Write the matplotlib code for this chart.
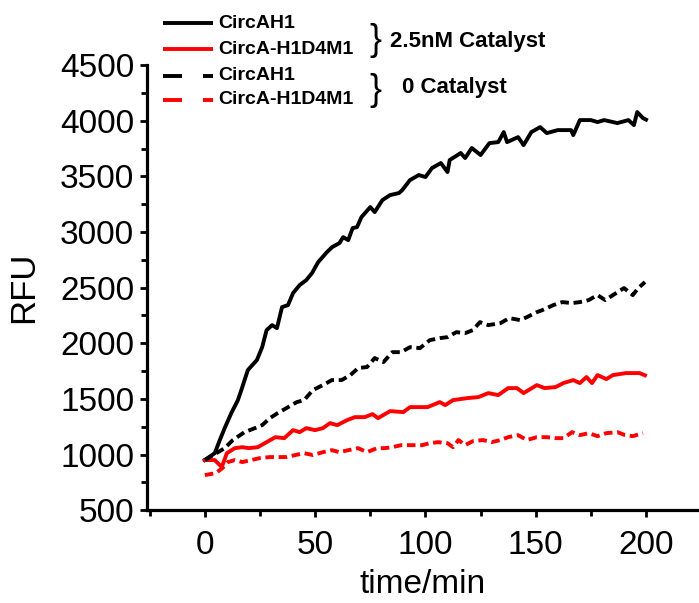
# Fluoreszenzkinetik: CircAH1 / CircA-H1D4M1 mit und ohne Katalysator
import numpy as np
import matplotlib.pyplot as plt
from matplotlib.lines import Line2D
from matplotlib.ticker import MultipleLocator

plt.rcParams['font.family'] = ['Liberation Sans', 'DejaVu Sans']

# Daten
t_ah1_cat = [0, 4.5, 6.8, 9, 12, 15, 17, 19.5, 23.6, 26, 28, 30.5, 32.7, 35, 37.7, 40, 43, 46,
             48.6, 51.4, 55.4, 57.7, 61, 62.7, 65, 67, 69, 71, 75, 77, 80.5, 84, 88, 89.5, 93,
             97, 100, 103, 107, 110, 111, 116, 118, 121, 125, 129, 133, 135.5, 137, 142, 144.5,
             148, 152, 155, 160, 166, 167, 170, 175, 178, 181, 187, 192, 194.5, 196, 198.6, 200]
f_ah1_cat = [950, 1012, 1130, 1237, 1372, 1489, 1606, 1759, 1849, 1965, 2118, 2163, 2136, 2325,
             2343, 2451, 2523, 2568, 2631, 2730, 2820, 2864, 2900, 2954, 2927, 3035, 3044, 3134,
             3224, 3179, 3287, 3332, 3350, 3377, 3467, 3512, 3494, 3575, 3620, 3539, 3647, 3710,
             3665, 3755, 3692, 3799, 3808, 3898, 3808, 3853, 3781, 3898, 3943, 3889, 3916, 3916,
             3871, 4006, 4006, 3988, 4006, 3979, 4006, 3961, 4078, 4024, 4010]

t_h1d4m1_cat = [0, 4.5, 7.7, 10, 13.6, 17, 20, 24, 28, 32, 36, 40, 43, 46, 50, 53.5, 56.7, 60,
                64.5, 68, 72.5, 76, 78.5, 84, 90, 93, 98.5, 101, 106.5, 109, 112.5, 119, 124,
                128.5, 133, 137.5, 141.5, 144.5, 150.5, 154, 159, 162.5, 167, 170, 173, 175.5,
                178, 182, 185, 191, 197, 199.5]
f_h1d4m1_cat = [950, 950, 887, 1012, 1057, 1066, 1057, 1066, 1111, 1156, 1147, 1219, 1201, 1237,
                1219, 1237, 1282, 1264, 1309, 1336, 1336, 1363, 1327, 1390, 1381, 1426, 1426,
                1426, 1471, 1444, 1489, 1507, 1516, 1552, 1534, 1597, 1597, 1552, 1624, 1597,
                1606, 1642, 1669, 1642, 1696, 1642, 1714, 1678, 1714, 1732, 1732, 1712]

t_ah1_0 = [0, 9, 12.7, 18, 22.7, 26, 29.5, 33, 37, 41.7, 45, 49, 53.5, 57.6, 62, 66, 69.5,
           73.5, 77, 81, 85, 89, 93, 97.5, 102, 106.5, 110, 114, 118, 121.5, 124.7, 128.5,
           134, 138, 143, 146, 150.5, 153, 158, 162, 166.5, 170, 174, 178, 181.5, 185, 190,
           194, 196.5, 199.5]
f_ah1_0 = [950, 1057, 1130, 1201, 1237, 1264, 1327, 1372, 1417, 1471, 1489, 1579, 1624, 1669,
           1669, 1714, 1777, 1786, 1867, 1831, 1920, 1920, 1965, 1956, 2028, 2046, 2055, 2100,
           2091, 2118, 2190, 2163, 2181, 2226, 2208, 2235, 2280, 2298, 2343, 2370, 2361, 2370,
           2388, 2433, 2388, 2433, 2496, 2433, 2496, 2550]

t_h1d4m1_0 = [0, 5, 8, 10.5, 13.6, 17, 21, 25, 29.5, 33, 37, 41, 45, 49, 53.5, 57.6, 61, 65,
              69.5, 73.5, 78, 81.6, 85, 89, 94, 98.5, 102, 105.7, 110, 112.5, 115, 118, 121.5,
              126, 130, 134, 137.5, 142, 146, 150.5, 155, 159, 162.5, 166.5, 170, 174, 178,
              182, 187, 190.5, 194, 198.6]
f_h1d4m1_0 = [815, 833, 878, 932, 950, 932, 950, 968, 977, 977, 977, 995, 1012, 995, 1021, 1039,
              1021, 1039, 1057, 1021, 1057, 1057, 1066, 1084, 1084, 1084, 1102, 1111, 1102, 1066,
              1130, 1084, 1120, 1130, 1111, 1130, 1156, 1174, 1130, 1156, 1156, 1147, 1147, 1201,
              1174, 1192, 1165, 1192, 1201, 1174, 1165, 1192]

fig = plt.figure(figsize=(6.99, 6.03), dpi=100)
ax = fig.add_axes([0.21, 0.154, 0.79, 0.738])

lw = 2.8
ds = (2.2, 1.2)
ax.plot(t_ah1_cat, f_ah1_cat, '-', color='black', lw=lw)
ax.plot(t_h1d4m1_cat, f_h1d4m1_cat, '-', color='#ff0000', lw=lw)
ax.plot(t_ah1_0, f_ah1_0, '--', color='black', lw=lw, dashes=ds)
ax.plot(t_h1d4m1_0, f_h1d4m1_0, '--', color='#ff0000', lw=lw, dashes=ds)

ax.set_xlim(-26.3, 224)
ax.set_ylim(500, 4500)
ax.xaxis.set_major_locator(MultipleLocator(50))
ax.xaxis.set_minor_locator(MultipleLocator(25))
ax.yaxis.set_major_locator(MultipleLocator(500))
ax.yaxis.set_minor_locator(MultipleLocator(250))

for s in ['top', 'right']:
    ax.spines[s].set_visible(False)
for s in ['left', 'bottom']:
    ax.spines[s].set_linewidth(2.3)

ax.tick_params(which='major', direction='out', length=5, width=2, labelsize=24)
ax.tick_params(which='minor', direction='out', length=4, width=2)
ax.tick_params(axis='x', which='major', pad=9)
ax.tick_params(axis='y', which='major', pad=4)

ax.set_xlabel('time/min', fontsize=24, labelpad=6)
ax.set_ylabel('RFU', fontsize=25, labelpad=14)

# Legende von Hand (Figurkoordinaten in Pixeln)
W, H = 699, 603
def fx(px):
    return px / W
def fy(py):
    return 1 - py / H

entries = [('CircAH1', 'black', '-', 23), ('CircA-H1D4M1', '#ff0000', '-', 49),
           ('CircAH1', 'black', '--', 76), ('CircA-H1D4M1', '#ff0000', '--', 100)]
for name, col, ls, py in entries:
    ln = Line2D([fx(163), fx(213)], [fy(py), fy(py)], transform=fig.transFigure,
                color=col, lw=2.8, solid_capstyle='butt', dash_capstyle='butt')
    if ls == '--':
        ln.set_dashes((19 * 0.72 / 2.8, 21 * 0.72 / 2.8))
    fig.add_artist(ln)
    fig.text(fx(218), fy(py), name, fontsize=14, fontweight='bold',
             ha='left', va='center')

fig.text(fx(369), fy(40), '}', fontsize=26, ha='left', va='center')
fig.text(fx(369), fy(90), '}', fontsize=26, ha='left', va='center')
fig.text(fx(390), fy(42), '2.5nM Catalyst', fontsize=16, fontweight='bold',
         ha='left', va='center')
fig.text(fx(402), fy(88), '0 Catalyst', fontsize=16, fontweight='bold',
         ha='left', va='center')

fig.savefig('out.png', dpi=100)
